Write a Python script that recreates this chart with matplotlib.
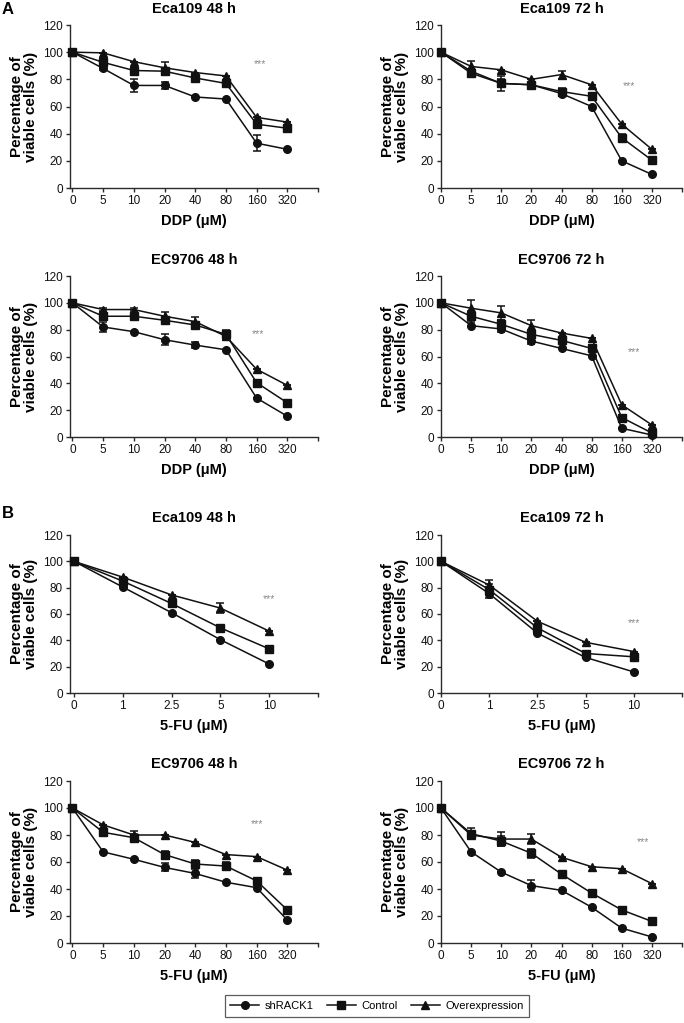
import matplotlib
matplotlib.use("Agg")
import matplotlib.pyplot as plt
from matplotlib.lines import Line2D

plt.rcParams['font.family'] = ['Liberation Sans', 'DejaVu Sans']

# ---------------- data ----------------
ddp_labels = ["0", "5", "10", "20", "40", "80", "160", "320"]
fu_labels_short = ["0", "1", "2.5", "5", "10"]
fu_labels_long = ["0", "5", "10", "20", "40", "80", "160", "320"]

# A: Eca109 48 h (DDP)
a1_sh = [100, 88, 75.5, 75.5, 67, 65.5, 33, 28.5]
a1_ct = [100, 92.5, 86.5, 86, 81, 77, 47, 44]
a1_ov = [100, 99.5, 93, 88.5, 85, 82.5, 52, 48.5]
a1_sh_e = [0, 1, 5, 2.5, 0, 0, 6, 0]
a1_ct_e = [0, 1.5, 1.5, 2.5, 1.5, 1.5, 1.5, 1]
a1_ov_e = [0, 0, 0, 4, 0, 0, 0, 0]

# A: Eca109 72 h (DDP)
a2_sh = [100, 86, 77, 76, 69.5, 60, 20, 10]
a2_ct = [100, 84.5, 77, 76, 71, 67.5, 37, 20.5]
a2_ov = [100, 89.5, 87, 80, 83.5, 76, 47, 28.5]
a2_sh_e = [0, 1, 5.5, 1, 2, 0, 0, 0]
a2_ct_e = [0, 3, 3, 1.5, 2.5, 1.5, 2.5, 1]
a2_ov_e = [0, 4, 0, 0, 3, 0, 0, 0]

# A: EC9706 48 h (DDP)
a3_sh = [100, 82, 78.5, 72.5, 68.5, 65, 29, 15.5]
a3_ct = [100, 90, 90, 87, 83.5, 76.5, 40.5, 25.5]
a3_ov = [100, 95, 95, 90, 86, 75, 50.5, 38.5]
a3_sh_e = [0, 3.5, 0, 4, 2, 0, 0, 0]
a3_ct_e = [0, 3, 2, 2, 2, 3, 1, 1]
a3_ov_e = [0, 1, 1, 3, 3.5, 3, 0, 0]

# A: EC9706 72 h (DDP)
a4_sh = [100, 83, 80.5, 71.5, 66, 60.5, 6.5, 1.5]
a4_ct = [100, 90, 84, 76.5, 72, 66, 14.5, 3]
a4_ov = [100, 96, 92.5, 83, 77.5, 73.5, 24, 9]
a4_sh_e = [0, 0, 2, 2, 0, 0, 0, 0]
a4_ct_e = [0, 4, 3, 3, 1.5, 1.5, 2, 1]
a4_ov_e = [0, 6, 5, 4, 0, 0, 0, 0]

# B: Eca109 48 h (5-FU)
b1_sh = [100, 80.5, 61, 40.5, 22]
b1_ct = [100, 85, 68, 49.5, 33.5]
b1_ov = [100, 88, 74.5, 64.5, 47]
b1_sh_e = [0, 0, 0, 0, 0]
b1_ct_e = [0, 0, 1, 1, 1]
b1_ov_e = [0, 0, 0, 4, 0]

# B: Eca109 72 h (5-FU)
b2_sh = [100, 75.5, 45.5, 27, 16]
b2_ct = [100, 78.5, 49.5, 30, 27.5]
b2_ov = [100, 82, 54.5, 38.5, 31.5]
b2_sh_e = [0, 3, 0, 0, 0]
b2_ct_e = [0, 4, 2, 1, 1]
b2_ov_e = [0, 4, 0, 0, 0]

# B: EC9706 48 h (5-FU)
b3_sh = [100, 67.5, 62, 56, 51.5, 45, 41, 17]
b3_ct = [100, 82, 78, 65.5, 58.5, 57, 46, 24.5]
b3_ov = [100, 87.5, 80, 80, 74.5, 65.5, 64, 54]
b3_sh_e = [0, 0, 0, 3, 3, 0, 0, 0]
b3_ct_e = [0, 1, 3, 3, 3, 3, 1, 1]
b3_ov_e = [0, 0, 3, 0, 0, 0, 0, 0]

# B: EC9706 72 h (5-FU)
b4_sh = [100, 67.5, 52.5, 42.5, 39, 26.5, 11, 4.5]
b4_ct = [100, 81, 75.5, 66.5, 51, 37, 24.5, 16]
b4_ov = [100, 80, 77, 77, 63.5, 56.5, 55, 44]
b4_sh_e = [0, 0, 0, 4, 0, 0, 0, 0]
b4_ct_e = [0, 4, 4, 3.5, 1, 1, 1, 1]
b4_ov_e = [0, 3, 5, 4, 0, 0, 0, 0]

titles = ["Eca109 48 h", "Eca109 72 h", "EC9706 48 h", "EC9706 72 h",
          "Eca109 48 h", "Eca109 72 h", "EC9706 48 h", "EC9706 72 h"]
xlabels = ["DDP (\u03bcM)"] * 4 + ["5-FU (\u03bcM)"] * 4
star_pos = [(6.1, 91), (6.25, 75), (6.05, 77), (6.4, 63),
            (4.0, 71), (4.0, 53), (6.0, 88), (6.7, 74.5)]

panels = [
    (ddp_labels, a1_sh, a1_ct, a1_ov, a1_sh_e, a1_ct_e, a1_ov_e),
    (ddp_labels, a2_sh, a2_ct, a2_ov, a2_sh_e, a2_ct_e, a2_ov_e),
    (ddp_labels, a3_sh, a3_ct, a3_ov, a3_sh_e, a3_ct_e, a3_ov_e),
    (ddp_labels, a4_sh, a4_ct, a4_ov, a4_sh_e, a4_ct_e, a4_ov_e),
    (fu_labels_short, b1_sh, b1_ct, b1_ov, b1_sh_e, b1_ct_e, b1_ov_e),
    (fu_labels_short, b2_sh, b2_ct, b2_ov, b2_sh_e, b2_ct_e, b2_ov_e),
    (fu_labels_long, b3_sh, b3_ct, b3_ov, b3_sh_e, b3_ct_e, b3_ov_e),
    (fu_labels_long, b4_sh, b4_ct, b4_ov, b4_sh_e, b4_ct_e, b4_ov_e),
]

# ---------------- layout ----------------
W, H = 684, 1023
fig = plt.figure(figsize=(W / 100, H / 100), dpi=100)

rows_px = [(25, 188), (276, 437), (535, 693), (781, 943)]
cols_px = [(70, 318), (441, 682)]

spine_col = "#2a2a2a"
markers = ["o", "s", "^"]
msizes = [5.5, 6, 6]

for i, (labels, sh, ct, ov, she, cte, ove) in enumerate(panels):
    r, c = divmod(i, 2)
    top, bot = rows_px[r]
    left, right = cols_px[c]
    ax = fig.add_axes([left / W, 1 - bot / H, (right - left) / W, (bot - top) / H])
    n = len(labels)
    xs = list(range(n))
    for ys, es, m, ms in zip([sh, ct, ov], [she, cte, ove], markers, msizes):
        ax.errorbar(xs, ys, yerr=es, color="#111111", lw=1.1, marker=m, ms=ms,
                    capsize=3, elinewidth=1.1, capthick=1.1, zorder=3, clip_on=False)
    ax.set_xlim(-0.08 if c == 0 else 0.0, n)
    ax.set_ylim(0, 120)
    ax.set_yticks(range(0, 121, 20))
    ax.set_xticks(xs + [n])
    ax.set_xticklabels(labels + [""])
    for s in ["top", "right"]:
        ax.spines[s].set_visible(False)
    for s in ["left", "bottom"]:
        ax.spines[s].set_color(spine_col)
        ax.spines[s].set_linewidth(1.0)
    ax.tick_params(axis="both", direction="out", length=3, width=1.0,
                   color=spine_col, labelsize=8.5, pad=2, labelcolor="#111111")
    ax.set_title(titles[i], fontsize=10.5, fontweight="bold", pad=9)
    ax.set_xlabel(xlabels[i], fontsize=10.5, fontweight="bold", labelpad=5)
    ax.set_ylabel("Percentage of\nviable cells (%)", fontsize=11, fontweight="bold",
                  labelpad=4, linespacing=1.0)
    sx, sy = star_pos[i]
    ax.text(sx, sy, "***", color="#888888", fontsize=7.5, ha="center", va="center")

fig.text(2 / W, 1 - 10 / H, "A", fontsize=12, fontweight="bold", va="center", ha="left")
fig.text(2 / W, 1 - 513 / H, "B", fontsize=12, fontweight="bold", va="center", ha="left")

handles = [Line2D([0], [0], color="#111111", lw=1.1, marker=m, ms=ms)
           for m, ms in zip(markers, msizes)]
leg = fig.legend(handles, ["shRACK1", "Control", "Overexpression"], loc="center",
                 bbox_to_anchor=(377 / W, 1 - 1006 / H), ncol=3, fontsize=8,
                 frameon=True, fancybox=False, edgecolor="#333333",
                 handlelength=2.6, columnspacing=1.2, borderpad=0.5,
                 handletextpad=0.5)
leg.get_frame().set_linewidth(0.9)

fig.savefig("out.png", dpi=100)
